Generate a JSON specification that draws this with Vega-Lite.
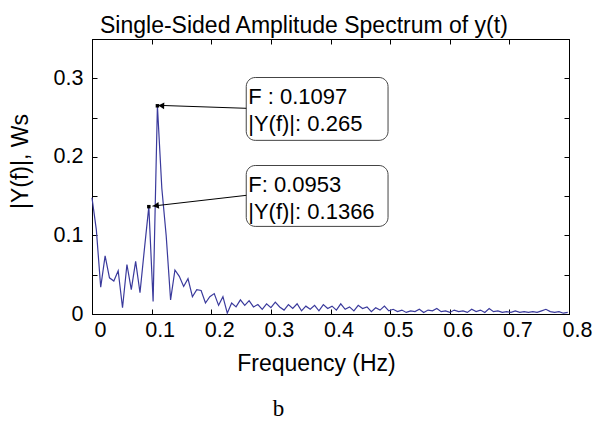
{
  "$schema": "https://vega.github.io/schema/vega-lite/v6.json",
  "autosize": {"type": "none"},
  "padding": {"left": 92, "top": 39, "right": 31, "bottom": 107},
  "width": 477,
  "height": 275,
  "background": "white",
  "config": {
    "view": {"stroke": "black", "strokeWidth": 1},
    "font": "Liberation Sans",
    "axis": {"grid": false, "minExtent": 0, "domainColor": "black", "tickColor": "black", "labelColor": "black", "titleColor": "black", "titleFontWeight": "normal", "labelFont": "Liberation Sans", "titleFont": "Liberation Sans"}
  },
  "title": {"text": "Single-Sided Amplitude Spectrum of y(t)", "fontSize": 23, "fontWeight": "normal", "font": "Liberation Sans", "color": "black", "anchor": "start", "frame": "group", "dx": 8, "dy": 23, "baseline": "bottom", "offset": 1},
  "datasets": {
    "spectrum": [
      {"f": 0.0000, "amp": 0.148}, {"f": 0.0073, "amp": 0.107}, {"f": 0.0146, "amp": 0.034}, {"f": 0.0220, "amp": 0.074},
      {"f": 0.0293, "amp": 0.046}, {"f": 0.0366, "amp": 0.042}, {"f": 0.0439, "amp": 0.055}, {"f": 0.0512, "amp": 0.008},
      {"f": 0.0586, "amp": 0.063}, {"f": 0.0659, "amp": 0.031}, {"f": 0.0732, "amp": 0.067}, {"f": 0.0805, "amp": 0.027},
      {"f": 0.0878, "amp": 0.082}, {"f": 0.0953, "amp": 0.1366}, {"f": 0.1025, "amp": 0.016}, {"f": 0.1097, "amp": 0.265},
      {"f": 0.1171, "amp": 0.160}, {"f": 0.1244, "amp": 0.100}, {"f": 0.1318, "amp": 0.018}, {"f": 0.1391, "amp": 0.056},
      {"f": 0.1464, "amp": 0.048}, {"f": 0.1537, "amp": 0.035}, {"f": 0.1610, "amp": 0.045}, {"f": 0.1684, "amp": 0.022},
      {"f": 0.1757, "amp": 0.031}, {"f": 0.1830, "amp": 0.030}, {"f": 0.1903, "amp": 0.014}, {"f": 0.1976, "amp": 0.022},
      {"f": 0.2050, "amp": 0.026}, {"f": 0.2123, "amp": 0.011}, {"f": 0.2196, "amp": 0.022}, {"f": 0.2269, "amp": 0.001},
      {"f": 0.2342, "amp": 0.014}, {"f": 0.2416, "amp": 0.009}, {"f": 0.2489, "amp": 0.018}, {"f": 0.2562, "amp": 0.011},
      {"f": 0.2635, "amp": 0.017}, {"f": 0.2708, "amp": 0.009}, {"f": 0.2782, "amp": 0.012}, {"f": 0.2855, "amp": 0.006},
      {"f": 0.2928, "amp": 0.013}, {"f": 0.3001, "amp": 0.008}, {"f": 0.3074, "amp": 0.015}, {"f": 0.3148, "amp": 0.009},
      {"f": 0.3221, "amp": 0.005}, {"f": 0.3294, "amp": 0.012}, {"f": 0.3367, "amp": 0.007}, {"f": 0.3440, "amp": 0.013},
      {"f": 0.3514, "amp": 0.004}, {"f": 0.3587, "amp": 0.010}, {"f": 0.3660, "amp": 0.006}, {"f": 0.3733, "amp": 0.011},
      {"f": 0.3806, "amp": 0.004}, {"f": 0.3880, "amp": 0.012}, {"f": 0.3953, "amp": 0.007}, {"f": 0.4026, "amp": 0.010},
      {"f": 0.4099, "amp": 0.005}, {"f": 0.4172, "amp": 0.013}, {"f": 0.4246, "amp": 0.006}, {"f": 0.4319, "amp": 0.009},
      {"f": 0.4392, "amp": 0.004}, {"f": 0.4465, "amp": 0.011}, {"f": 0.4538, "amp": 0.007}, {"f": 0.4612, "amp": 0.009},
      {"f": 0.4685, "amp": 0.003}, {"f": 0.4758, "amp": 0.008}, {"f": 0.4831, "amp": 0.005}, {"f": 0.4904, "amp": 0.010},
      {"f": 0.4978, "amp": 0.004}, {"f": 0.5051, "amp": 0.006}, {"f": 0.5124, "amp": 0.003}, {"f": 0.5197, "amp": 0.005},
      {"f": 0.5270, "amp": 0.002}, {"f": 0.5344, "amp": 0.004}, {"f": 0.5417, "amp": 0.003}, {"f": 0.5490, "amp": 0.006},
      {"f": 0.5563, "amp": 0.002}, {"f": 0.5636, "amp": 0.005}, {"f": 0.5710, "amp": 0.004}, {"f": 0.5783, "amp": 0.007},
      {"f": 0.5856, "amp": 0.003}, {"f": 0.5929, "amp": 0.004}, {"f": 0.6002, "amp": 0.002}, {"f": 0.6076, "amp": 0.005},
      {"f": 0.6149, "amp": 0.003}, {"f": 0.6222, "amp": 0.004}, {"f": 0.6295, "amp": 0.002}, {"f": 0.6368, "amp": 0.006},
      {"f": 0.6442, "amp": 0.003}, {"f": 0.6515, "amp": 0.005}, {"f": 0.6588, "amp": 0.002}, {"f": 0.6661, "amp": 0.007},
      {"f": 0.6734, "amp": 0.003}, {"f": 0.6808, "amp": 0.004}, {"f": 0.6881, "amp": 0.002}, {"f": 0.6954, "amp": 0.003},
      {"f": 0.7027, "amp": 0.002}, {"f": 0.7100, "amp": 0.004}, {"f": 0.7174, "amp": 0.002}, {"f": 0.7247, "amp": 0.003},
      {"f": 0.7320, "amp": 0.002}, {"f": 0.7393, "amp": 0.003}, {"f": 0.7466, "amp": 0.002}, {"f": 0.7540, "amp": 0.004},
      {"f": 0.7613, "amp": 0.006}, {"f": 0.7686, "amp": 0.003}, {"f": 0.7759, "amp": 0.002}, {"f": 0.7832, "amp": 0.003},
      {"f": 0.7906, "amp": 0.001}, {"f": 0.7979, "amp": 0.002}
    ],
    "boxes": [
      {"x1": 0.2587, "x2": 0.4965, "y1": 0.221, "y2": 0.301},
      {"x1": 0.2587, "x2": 0.4965, "y1": 0.1115, "y2": 0.189}
    ],
    "labels": [
      {"x": 0.262, "y": 0.2669, "text": "F : 0.1097"},
      {"x": 0.262, "y": 0.2325, "text": "|Y(f)|: 0.265"},
      {"x": 0.262, "y": 0.1548, "text": "F: 0.0953"},
      {"x": 0.262, "y": 0.1204, "text": "|Y(f)|: 0.1366"}
    ],
    "arrows": [
      {"x1": 0.2587, "y1": 0.2618, "x2": 0.1103, "y2": 0.2656},
      {"x1": 0.2587, "y1": 0.151, "x2": 0.1013, "y2": 0.1373}
    ],
    "markers": [
      {"f": 0.0953, "amp": 0.1366},
      {"f": 0.1097, "amp": 0.265}
    ]
  },
  "layer": [
    {
      "data": {"name": "spectrum"},
      "mark": {"type": "line", "color": "#3a3a9c", "strokeWidth": 1.2},
      "encoding": {
        "x": {"field": "f", "type": "quantitative", "scale": {"domain": [0, 0.8], "nice": false, "zero": false},
          "axis": {"orient": "bottom", "values": [0, 0.1, 0.2, 0.3, 0.4, 0.5, 0.6, 0.7, 0.8], "format": ".1~f", "labelFlush": false, "labelFontSize": 21.5, "tickSize": -5, "labelPadding": 27.5, "labelOffset": 8, "labelBaseline": "alphabetic", "title": "Frequency (Hz)", "titleFontSize": 23, "titleX": 224, "titleY": 56, "titleBaseline": "alphabetic", "titleAnchor": "middle"}},
        "y": {"field": "amp", "type": "quantitative", "scale": {"domain": [0, 0.35], "nice": false, "zero": false},
          "axis": {"orient": "left", "values": [0, 0.05, 0.1, 0.15, 0.2, 0.25, 0.3], "labelExpr": "round(datum.value*100) % 10 == 0 ? format(datum.value, '.1~f') : ''", "labelFontSize": 21.5, "tickSize": -5, "labelPadding": 14, "title": "|Y(f)|, Ws", "titleFontSize": 23, "titleAngle": 270, "titleX": -60, "titleY": 122, "titleBaseline": "bottom", "titleAlign": "center"}}
      }
    },
    {
      "data": {"name": "boxes"},
      "mark": {"type": "rect", "fill": "white", "stroke": "#444444", "strokeWidth": 1, "cornerRadius": 9},
      "encoding": {
        "x": {"field": "x1", "type": "quantitative", "axis": {"orient": "top", "values": [0, 0.1, 0.2, 0.3, 0.4, 0.5, 0.6, 0.7, 0.8], "labels": false, "tickSize": -5, "title": null}},
        "x2": {"field": "x2"},
        "y": {"field": "y1", "type": "quantitative", "axis": {"orient": "right", "values": [0, 0.05, 0.1, 0.15, 0.2, 0.25, 0.3], "labels": false, "tickSize": -5, "title": null}},
        "y2": {"field": "y2"}
      }
    },
    {
      "data": {"name": "labels"},
      "mark": {"type": "text", "align": "left", "baseline": "alphabetic", "fontSize": 22, "font": "Liberation Sans", "color": "black"},
      "encoding": {
        "x": {"field": "x", "type": "quantitative", "axis": null},
        "y": {"field": "y", "type": "quantitative", "axis": null},
        "text": {"field": "text"}
      }
    },
    {
      "data": {"name": "arrows"},
      "mark": {"type": "rule", "color": "black", "strokeWidth": 1},
      "encoding": {
        "x": {"field": "x1", "type": "quantitative", "axis": null},
        "y": {"field": "y1", "type": "quantitative", "axis": null},
        "x2": {"field": "x2"},
        "y2": {"field": "y2"}
      }
    },
    {
      "data": {"values": [{}]},
      "mark": {"type": "point", "shape": "triangle-left", "filled": true, "color": "black", "size": 45, "angle": 2, "opacity": 1},
      "encoding": {
        "x": {"datum": 0.1162, "type": "quantitative", "axis": null},
        "y": {"datum": 0.2651, "type": "quantitative", "axis": null}
      }
    },
    {
      "data": {"values": [{}]},
      "mark": {"type": "point", "shape": "triangle-left", "filled": true, "color": "black", "size": 45, "angle": -6.6, "opacity": 1},
      "encoding": {
        "x": {"datum": 0.1072, "type": "quantitative", "axis": null},
        "y": {"datum": 0.1378, "type": "quantitative", "axis": null}
      }
    },
    {
      "data": {"name": "markers"},
      "mark": {"type": "point", "shape": "square", "filled": true, "color": "black", "size": 12, "opacity": 1},
      "encoding": {
        "x": {"field": "f", "type": "quantitative", "axis": null},
        "y": {"field": "amp", "type": "quantitative", "axis": null}
      }
    },
    {
      "data": {"values": [{"label": "b"}]},
      "mark": {"type": "text", "align": "center", "baseline": "alphabetic", "fontSize": 23, "font": "Liberation Serif", "color": "black"},
      "encoding": {
        "x": {"datum": 0.3127, "type": "quantitative", "axis": null},
        "y": {"datum": -0.1293, "type": "quantitative", "axis": null},
        "text": {"field": "label"}
      }
    }
  ],
  "resolve": {"axis": {"x": "independent", "y": "independent"}}
}
